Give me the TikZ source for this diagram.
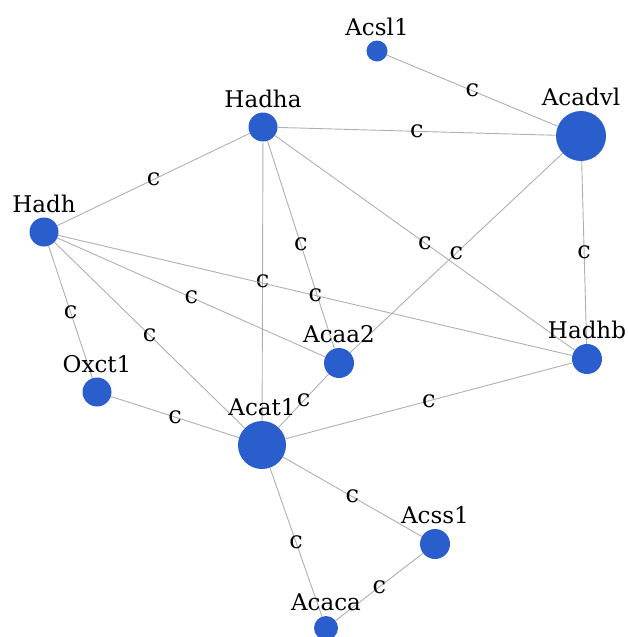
\documentclass[tikz,border=0pt]{standalone}
\usepackage{fontspec}
\setmainfont{DejaVu Serif}
\definecolor{nodeblue}{RGB}{41,94,204}
\definecolor{edgegray}{RGB}{175,175,175}
\begin{document}
\begin{tikzpicture}[x=1pt,y=-1pt,
  gnode/.style={circle,fill=nodeblue,draw=none,inner sep=0pt},
  nlabel/.style={anchor=base,inner sep=0pt,font=\fontsize{23}{23}\selectfont},
  edge/.style={draw=edgegray,line width=0.9pt},
  elabel/.style={midway,inner sep=0pt,font=\fontsize{24}{24}\selectfont}]
\useasboundingbox (0,0) rectangle (628,637);
% nodes
\node[gnode,minimum size=21pt] (acsl1) at (377,51) {};
\node[gnode,minimum size=50pt] (acadvl) at (581,136) {};
\node[gnode,minimum size=29pt] (hadha) at (263,127) {};
\node[gnode,minimum size=29pt] (hadh) at (44,232) {};
\node[gnode,minimum size=29pt] (oxct1) at (97,392) {};
\node[gnode,minimum size=30pt] (acaa2) at (339,363) {};
\node[gnode,minimum size=30pt] (hadhb) at (587,359) {};
\node[gnode,minimum size=48pt] (acat1) at (262,445) {};
\node[gnode,minimum size=30pt] (acss1) at (435,544) {};
\node[gnode,minimum size=24pt] (acaca) at (326,628) {};
% edges
\path[edge] (acsl1) -- node[elabel]{c} (acadvl);
\path[edge] (hadha) -- node[elabel]{c} (acadvl);
\path[edge] (hadha) -- node[elabel]{c} (hadh);
\path[edge] (hadha) -- node[elabel]{c} (acat1);
\path[edge] (hadha) -- node[elabel]{c} (acaa2);
\path[edge] (hadha) -- node[elabel]{c} (hadhb);
\path[edge] (acadvl) -- node[elabel]{c} (acaa2);
\path[edge] (acadvl) -- node[elabel]{c} (hadhb);
\path[edge] (hadh) -- node[elabel]{c} (oxct1);
\path[edge] (hadh) -- node[elabel]{c} (acat1);
\path[edge] (hadh) -- node[elabel]{c} (acaa2);
\path[edge] (hadh) -- node[elabel]{c} (hadhb);
\path[edge] (oxct1) -- node[elabel]{c} (acat1);
\path[edge] (acaa2) -- node[elabel]{c} (acat1);
\path[edge] (hadhb) -- node[elabel]{c} (acat1);
\path[edge] (acat1) -- node[elabel]{c} (acss1);
\path[edge] (acat1) -- node[elabel]{c} (acaca);
\path[edge] (acss1) -- node[elabel]{c} (acaca);
% node labels
\node[nlabel] (l-acsl1) at ([yshift=5pt]acsl1.north) {Acsl1};
\node[nlabel] (l-acadvl) at ([yshift=5pt]acadvl.north) {Acadvl};
\node[nlabel] (l-hadha) at ([yshift=5pt]hadha.north) {Hadha};
\node[nlabel] (l-hadh) at ([yshift=5pt]hadh.north) {Hadh};
\node[nlabel] (l-oxct1) at ([yshift=5pt]oxct1.north) {Oxct1};
\node[nlabel] (l-acaa2) at ([yshift=5pt]acaa2.north) {Acaa2};
\node[nlabel] (l-hadhb) at ([yshift=5pt]hadhb.north) {Hadhb};
\node[nlabel] (l-acat1) at ([yshift=5pt]acat1.north) {Acat1};
\node[nlabel] (l-acss1) at ([yshift=5pt]acss1.north) {Acss1};
\node[nlabel] (l-acaca) at ([yshift=5pt]acaca.north) {Acaca};
\end{tikzpicture}
\end{document}
